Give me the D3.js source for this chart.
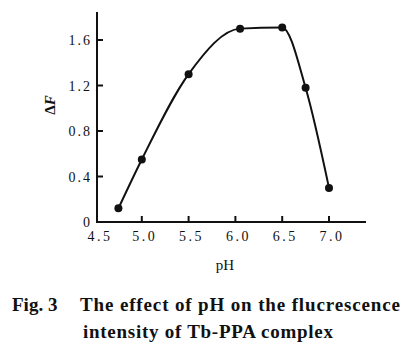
<!DOCTYPE html>
<html>
<head>
<meta charset="utf-8">
<script src="https://cdn.jsdelivr.net/npm/d3@7/dist/d3.min.js"></script>
<style>
  html, body { margin: 0; padding: 0; background: #fff; }
  svg { display: block; }
</style>
</head>
<body>
<svg id="chart" width="419" height="359"></svg>
<script>
// ---- data ----
const pH = [4.75, 5.0, 5.5, 6.05, 6.5, 6.75, 7.0];
const deltaF = [0.12, 0.55, 1.30, 1.70, 1.71, 1.18, 0.30];
const xTicks = [4.5, 5.0, 5.5, 6.0, 6.5, 7.0];
const xTickLabels = ["4.5", "5.0", "5.5", "6.0", "6.5", "7.0"];
const yTicks = [0, 0.4, 0.8, 1.2, 1.6];
const yTickLabels = ["0", "0.4", "0.8", "1.2", "1.6"];
const xTitle = "pH";
const captionLine1a = "Fig. 3";
const captionLine1b = "The effect of pH on the flucrescence";
const captionLine2 = "intensity of Tb-PPA complex";

// ---- layout ----
const svg = d3.select("#chart");
const axisX = 97, axisY = 222, axisTop = 12, axisRight = 366;
const x = d3.scaleLinear().domain([4.5, 7.0]).range([95, 329]);
const y = d3.scaleLinear().domain([0, 1.6]).range([axisY, 40]);
const ink = "#111";
const numFont = "'Liberation Serif', 'DejaVu Serif', serif";

// axes lines
svg.append("line").attr("x1", axisX).attr("x2", axisX).attr("y1", axisTop).attr("y2", axisY + 1)
  .attr("stroke", ink).attr("stroke-width", 2);
svg.append("line").attr("x1", axisX - 1).attr("x2", axisRight).attr("y1", axisY).attr("y2", axisY)
  .attr("stroke", ink).attr("stroke-width", 2);

// x ticks (pointing inward/up)
const xt = svg.append("g");
xTicks.forEach((t, i) => {
  if (i > 0) {
    xt.append("line").attr("x1", x(t)).attr("x2", x(t)).attr("y1", axisY).attr("y2", axisY - 6)
      .attr("stroke", ink).attr("stroke-width", 2);
  }
  xt.append("text").attr("x", x(t) + (i === 0 ? 5 : 3)).attr("y", 241)
    .attr("text-anchor", "middle").attr("font-family", numFont).attr("font-size", 14)
    .attr("letter-spacing", 2.5).attr("fill", ink).text(xTickLabels[i]);
});

// y ticks (pointing right)
const yt = svg.append("g");
yTicks.forEach((t, i) => {
  if (i > 0) {
    yt.append("line").attr("x1", axisX).attr("x2", axisX + 6).attr("y1", y(t)).attr("y2", y(t))
      .attr("stroke", ink).attr("stroke-width", 2);
  }
  yt.append("text").attr("x", 92).attr("y", y(t) + 5)
    .attr("text-anchor", "end").attr("font-family", numFont).attr("font-size", 14)
    .attr("letter-spacing", 2).attr("fill", ink).text(yTickLabels[i]);
});

// curve
const pts = pH.map((v, i) => [v, deltaF[i]]);
const line = d3.line().x(d => x(d[0])).y(d => y(d[1])).curve(d3.curveMonotoneX);
svg.append("path").datum(pts).attr("d", line).attr("fill", "none")
  .attr("stroke", ink).attr("stroke-width", 2);

svg.append("g").selectAll("circle").data(pts).join("circle")
  .attr("cx", d => x(d[0])).attr("cy", d => y(d[1])).attr("r", 4).attr("fill", ink);

// axis titles
svg.append("text").attr("x", 225).attr("y", 270).attr("text-anchor", "middle")
  .attr("font-family", numFont).attr("font-size", 15).attr("fill", ink).text(xTitle);

const yl = svg.append("text").attr("transform", "translate(55,105) rotate(-90)")
  .attr("text-anchor", "middle").attr("font-family", numFont).attr("font-size", 15)
  .attr("font-weight", "bold").attr("fill", ink);
yl.append("tspan").text("Δ");
yl.append("tspan").attr("font-style", "italic").text("F");

// caption
const capFont = "'Liberation Serif', 'DejaVu Serif', serif";
svg.append("text").attr("x", 12).attr("y", 311).attr("font-family", capFont).attr("font-weight", "bold")
  .attr("font-size", 19).attr("fill", ink).text(captionLine1a);
svg.append("text").attr("x", 80).attr("y", 311).attr("font-family", capFont).attr("font-weight", "bold")
  .attr("font-size", 19).attr("fill", ink).attr("textLength", 320).attr("lengthAdjust", "spacing")
  .text(captionLine1b);
svg.append("text").attr("x", 83).attr("y", 338).attr("font-family", capFont).attr("font-weight", "bold")
  .attr("font-size", 19).attr("fill", ink).attr("textLength", 250).attr("lengthAdjust", "spacing")
  .text(captionLine2);
</script>
</body>
</html>
